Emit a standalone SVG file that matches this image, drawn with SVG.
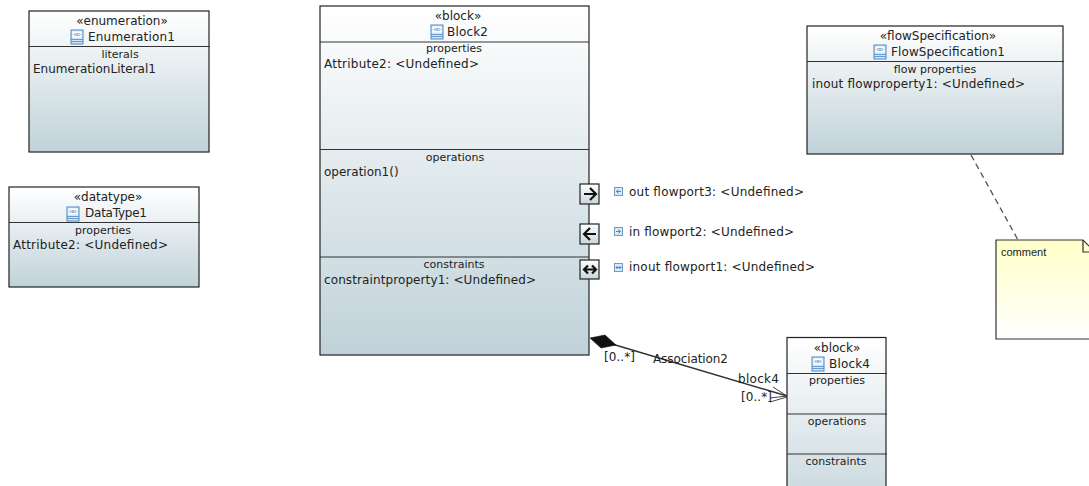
<svg xmlns="http://www.w3.org/2000/svg" width="1089" height="486" viewBox="0 0 1089 486">
<defs>
<linearGradient id="g" x1="0" y1="0" x2="0" y2="1"><stop offset="0" stop-color="#ffffff"/><stop offset="1" stop-color="#c0d2d9"/></linearGradient>
<linearGradient id="n" x1="0" y1="0" x2="0" y2="1"><stop offset="0" stop-color="#ffffc8"/><stop offset="1" stop-color="#ffffff"/></linearGradient>
<linearGradient id="p" x1="0" y1="0" x2="0" y2="1"><stop offset="0" stop-color="#ffffff"/><stop offset="1" stop-color="#c8d6dc"/></linearGradient>
<g id="ic"><rect x="0" y="0" width="12" height="14" fill="#d4e4f4" stroke="#4a8ac8" stroke-width="1"/><rect x="1.5" y="1.5" width="9" height="6" fill="#fff" stroke="none"/><path d="M4 3.2L2.8 4.500L4 5.800M8 3.200L9.200 4.500L8 5.800M5.200 3v3M6.800 3v3" fill="none" stroke="#2f6fb0" stroke-width="0.7"/><path d="M0 9.500H12M0 11.500H12" stroke="#4a8ac8" stroke-width="0.8"/></g>
<g id="pi"><rect x="0" y="0" width="8" height="8" fill="#dce8f4" stroke="#6a9ccc" stroke-width="1"/></g>
</defs>
<style>
text{font-family:"DejaVu Sans",sans-serif;font-size:12px;fill:#222}
.c{text-anchor:middle}
.s{font-size:11px}
.box{fill:url(#g);stroke:#222;stroke-width:1.2}
.ln{stroke:#333;stroke-width:1.2;fill:none}
.port{fill:url(#p);stroke:#222;stroke-width:1.2}
.ar{fill:none;stroke:#111;stroke-width:2.2}
.pa{fill:none;stroke:#2f6fb0;stroke-width:0.8}
</style>
<rect width="1089" height="486" fill="#fff"/>

<g id="connectors">
<path d="M971 155L1018 240" fill="none" stroke="#555" stroke-width="1.4" stroke-dasharray="6 4"/>
<path d="M612 344L787 396" fill="none" stroke="#333" stroke-width="1.5"/>
<path d="M590 338L605 335L616 345L601 348Z" fill="#111" stroke="#111" stroke-width="0.6"/>
<path d="M773 387L787 396L770 398M770 402L787 397" fill="none" stroke="#444" stroke-width="1"/>
<text x="604" y="361" textLength="31">[0..*]</text>
<text x="653" y="363" textLength="75">Association2</text>
<text x="738" y="383" textLength="41">block4</text>
<text x="741" y="401" textLength="31">[0..*]</text>
</g>

<g id="enumeration1">
<rect class="box" x="29" y="11" width="180" height="141"/>
<path class="ln" d="M29 46.500H210"/>
<text class="c" x="122" y="25">«enumeration»</text>
<use href="#ic" x="71" y="30"/>
<text x="88" y="41" textLength="87">Enumeration1</text>
<text class="c s" x="120" y="58">literals</text>
<text x="33" y="73" textLength="123">EnumerationLiteral1</text>
</g>

<g id="datatype1">
<rect class="box" x="9" y="187" width="190" height="100"/>
<path class="ln" d="M9 222.500H200"/>
<text class="c" x="108" y="201">«datatype»</text>
<use href="#ic" x="67" y="207"/>
<text x="85" y="217" textLength="62">DataType1</text>
<text class="c s" x="103" y="234">properties</text>
<text x="13" y="249" textLength="155">Attribute2: &lt;Undefined&gt;</text>
</g>

<g id="block2">
<rect class="box" x="320" y="6" width="269" height="349"/>
<path class="ln" d="M320 42H589M320 149.500H589M320 257H589"/>
<text class="c" x="458" y="20">«block»</text>
<use href="#ic" x="431" y="25"/>
<text x="447" y="36" textLength="41">Block2</text>
<text class="c s" x="454" y="52">properties</text>
<text x="324" y="68" textLength="155">Attribute2: &lt;Undefined&gt;</text>
<text class="c s" x="455" y="161">operations</text>
<text x="324" y="176">operation1()</text>
<text class="c s" x="454" y="268">constraints</text>
<text x="324" y="284" textLength="212">constraintproperty1: &lt;Undefined&gt;</text>
</g>

<g id="flowport3">
<rect class="port" x="580" y="184" width="19" height="20"/>
<path class="ar" d="M584 194H596M590 188L596 194L590 200"/>
<use href="#pi" x="614.500" y="187.500"/>
<path class="pa" d="M621 191.500H616.500M618.500 189.500L616.500 191.500L618.500 193.500"/>
<text x="629" y="196" textLength="175">out flowport3: &lt;Undefined&gt;</text>
</g>
<g id="flowport2">
<rect class="port" x="580" y="224" width="19" height="20"/>
<path class="ar" d="M584 234H596M590 228L584 234L590 240"/>
<use href="#pi" x="614.500" y="227.500"/>
<path class="pa" d="M616 231.500H620.500M618.500 229.500L620.500 231.500L618.500 233.500"/>
<text x="629" y="236" textLength="165">in flowport2: &lt;Undefined&gt;</text>
</g>
<g id="flowport1">
<rect class="port" x="580" y="260" width="19" height="19"/>
<path class="ar" d="M584 269.500H596M588 265.500L584 269.500L588 273.500M592 265.500L596 269.500L592 273.500"/>
<use href="#pi" x="614.500" y="263.500"/>
<path class="pa" d="M616 267.500H621M617.500 266L616 267.500L617.500 269M619.500 266L621 267.500L619.500 269"/>
<text x="629" y="271" textLength="186">inout flowport1: &lt;Undefined&gt;</text>
</g>

<g id="flowspecification1">
<rect class="box" x="807" y="26" width="256" height="128"/>
<path class="ln" d="M807 61.500H1064"/>
<text class="c" x="938" y="40">«flowSpecification»</text>
<use href="#ic" x="874" y="45"/>
<text x="891" y="56" textLength="114">FlowSpecification1</text>
<text class="c s" x="935" y="73">flow properties</text>
<text x="812" y="88" textLength="213">inout flowproperty1: &lt;Undefined&gt;</text>
</g>

<g id="comment">
<path d="M996 240H1083L1095 252V339H996Z" fill="url(#n)" stroke="#333" stroke-width="1.200"/>
<path d="M1083 240V252H1095" fill="none" stroke="#333" stroke-width="1.200"/>
<text x="1001" y="256" style="font-family:'Liberation Sans',sans-serif;font-size:11px">comment</text>
</g>

<g id="block4">
<rect class="box" x="787" y="337.500" width="99" height="190"/>
<path class="ln" d="M787 373.500H887M787 414H887M787 454H887"/>
<text class="c" x="837" y="352">«block»</text>
<use href="#ic" x="812" y="357"/>
<text x="829" y="368" textLength="41">Block4</text>
<text class="c s" x="837" y="384">properties</text>
<text class="c s" x="837" y="425">operations</text>
<text class="c s" x="836" y="465">constraints</text>
</g>
</svg>
